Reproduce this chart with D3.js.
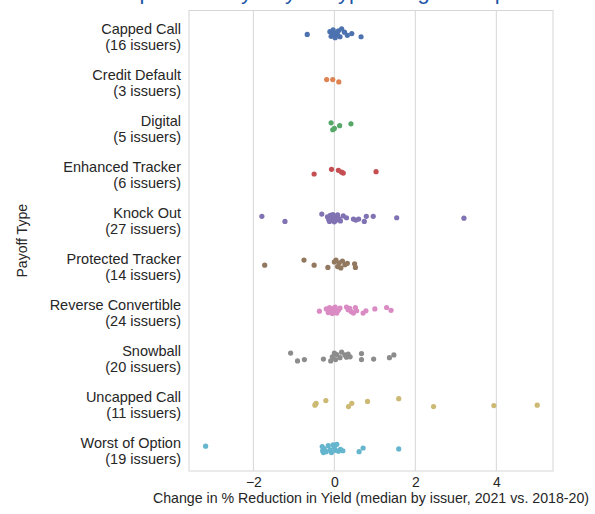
<!DOCTYPE html>
<html>
<head>
<meta charset="utf-8">
<script src="https://cdn.jsdelivr.net/npm/d3@7"></script>
<style>
  html, body { margin: 0; padding: 0; background: #ffffff; }
  svg { display: block; }
  text { font-family: "Liberation Sans", Arial, sans-serif; }
</style>
</head>
<body>
<svg id="chart" width="595" height="514"></svg>
<script>
// ---------------- data ----------------
const titleText = "Compression by Payoff Type: Largest Gap";
const categories = ["Capped Call", "Credit Default", "Digital", "Enhanced Tracker", "Knock Out",
  "Protected Tracker", "Reverse Convertible", "Snowball", "Uncapped Call", "Worst of Option"];
const issuerCounts = [16, 3, 5, 6, 27, 14, 24, 20, 11, 19];
const colors = ["#4c72b0", "#dd8452", "#55a868", "#c44e52", "#8172b3",
  "#937860", "#da8bc3", "#8c8c8c", "#ccb974", "#64b5cd"];

const cappedCall = [-0.67, -0.11, -0.08, -0.05, -0.03, 0.0, 0.02, 0.05, 0.08, 0.10, 0.14, 0.18, 0.25, 0.32, 0.43, 0.66];
const cappedCallJitter = [0.02, -0.04, 0.06, 0.0, -0.08, 0.05, 0.09, -0.02, 0.03, -0.06, 0.07, -0.1, -0.03, 0.04, 0.0, 0.07];

const creditDefault = [-0.19, -0.04, 0.11];
const creditDefaultJitter = [0.0, 0.0, 0.05];

const digital = [-0.08, -0.04, 0.0, 0.13, 0.41];
const digitalJitter = [-0.06, 0.09, 0.06, 0.0, -0.04];

const enhancedTracker = [-0.50, -0.07, 0.10, 0.18, 0.22, 1.03];
const enhancedTrackerJitter = [0.05, -0.05, -0.03, 0.01, 0.03, 0.0];

const knockOut = [-1.79, -1.22, -0.31, -0.17, -0.14, -0.12, -0.10, -0.08, -0.06, -0.04, -0.02, 0.0, 0.02, 0.05, 0.08,
  0.11, 0.15, 0.22, 0.30, 0.47, 0.53, 0.60, 0.74, 0.79, 0.96, 1.54, 3.20];
const knockOutJitter = [-0.03, 0.08, -0.08, -0.02, 0.04, 0.08, -0.05, 0.01, 0.06, -0.07, 0.03, 0.09, -0.03, 0.05, -0.06,
  0.02, 0.07, -0.04, 0.0, 0.03, 0.05, 0.03, 0.08, -0.03, -0.03, 0.0, 0.01];

const protectedTracker = [-1.72, -0.75, -0.50, -0.16, 0.0, 0.04, 0.08, 0.12, 0.16, 0.20, 0.26, 0.32, 0.50, 0.52];
const protectedTrackerJitter = [0.03, -0.08, 0.03, 0.08, -0.04, -0.08, 0.06, -0.02, 0.09, -0.06, 0.02, -0.01, 0.0, 0.08];

const reverseConvertible = [-0.37, -0.20, -0.15, -0.12, -0.08, -0.05, -0.02, 0.0, 0.02, 0.06, 0.10, 0.14, 0.30, 0.34,
  0.38, 0.42, 0.47, 0.52, 0.55, 0.71, 0.78, 1.00, 1.29, 1.40];
const reverseConvertibleJitter = [0.03, -0.02, 0.06, -0.05, 0.02, 0.08, -0.03, 0.05, -0.06, 0.07, 0.01, -0.04, -0.06, 0.0,
  -0.03, 0.04, 0.07, -0.05, 0.02, 0.07, 0.02, -0.02, -0.05, 0.01];

const snowball = [-1.08, -0.91, -0.74, -0.27, -0.09, -0.05, 0.0, 0.03, 0.06, 0.14, 0.18, 0.26, 0.30, 0.34, 0.39,
  0.67, 0.67, 0.97, 1.36, 1.47];
const snowballJitter = [-0.06, 0.11, 0.08, 0.07, 0.11, 0.02, -0.06, 0.08, -0.03, 0.04, -0.08, -0.02, 0.03, -0.04, 0.02,
  -0.05, 0.08, 0.07, 0.04, -0.02];

const uncappedCall = [-0.48, -0.47, -0.45, -0.21, 0.35, 0.43, 0.82, 1.59, 2.45, 3.94, 5.01];
const uncappedCallJitter = [0.07, 0.05, 0.03, -0.03, 0.1, 0.03, -0.01, -0.07, 0.1, 0.08, 0.07];

const worstOfOption = [-3.18, -0.30, -0.29, -0.27, -0.25, -0.20, -0.15, -0.10, -0.07, -0.03, 0.0, 0.03, 0.06, 0.10,
  0.15, 0.21, 0.61, 0.71, 1.59];
const worstOfOptionJitter = [-0.04, -0.03, 0.06, 0.1, 0.02, 0.08, -0.05, 0.04, 0.1, -0.07, -0.02, 0.05, -0.08, 0.07,
  0.03, 0.06, 0.08, 0.0, 0.02];

const seriesValues = [cappedCall, creditDefault, digital, enhancedTracker, knockOut,
  protectedTracker, reverseConvertible, snowball, uncappedCall, worstOfOption];
const seriesJitter = [cappedCallJitter, creditDefaultJitter, digitalJitter, enhancedTrackerJitter, knockOutJitter,
  protectedTrackerJitter, reverseConvertibleJitter, snowballJitter, uncappedCallJitter, worstOfOptionJitter];

const xTicks = [-2, 0, 2, 4];
const xDomain = [-3.59, 5.40];
const xLabel = "Change in % Reduction in Yield (median by issuer, 2021 vs. 2018-20)";
const yLabel = "Payoff Type";

// ---------------- chart ----------------
const svg = d3.select("#chart");
const plot = { left: 189, right: 553, top: 10.5, bottom: 471 };
const textColor = "#262626";
const gridColor = "#d6d6d6";

const x = d3.scaleLinear().domain(xDomain).range([plot.left, plot.right]);
const y = d3.scaleBand().domain(categories).range([plot.top, plot.bottom]).paddingInner(0).paddingOuter(0);
const step = y.step();

// title (cut off at top, only its lower part shows)
svg.append("text")
  .attr("x", 300).attr("y", -1.5)
  .attr("text-anchor", "middle")
  .attr("font-size", 22)
  .attr("fill", "#1f56a8")
  .text(titleText);

// grid
const xAxis = d3.axisBottom(x).tickValues(xTicks).tickSize(0).tickPadding(0)
  .tickFormat(d => d < 0 ? "\u2212" + Math.abs(d) : String(d));

svg.append("g").selectAll("line").data(xTicks).join("line")
  .attr("x1", d => x(d)).attr("x2", d => x(d))
  .attr("y1", plot.top).attr("y2", plot.bottom)
  .attr("stroke", gridColor).attr("stroke-width", 1);

// frame
svg.append("rect")
  .attr("x", plot.left).attr("y", plot.top)
  .attr("width", plot.right - plot.left).attr("height", plot.bottom - plot.top)
  .attr("fill", "none").attr("stroke", gridColor).attr("stroke-width", 1);

// x axis tick labels
const gx = svg.append("g").attr("transform", `translate(0,${plot.bottom})`).call(xAxis);
gx.select(".domain").remove();
gx.selectAll("text")
  .attr("dy", null).attr("y", 15.5)
  .attr("font-size", 14)
  .attr("font-family", "Liberation Sans, Arial, sans-serif")
  .attr("fill", textColor);

// x label
svg.append("text")
  .attr("x", (plot.left + plot.right) / 2).attr("y", 503)
  .attr("text-anchor", "middle")
  .attr("font-size", 14.2)
  .attr("fill", textColor)
  .text(xLabel);

// y label
svg.append("text")
  .attr("transform", `translate(27,${(plot.top + plot.bottom) / 2}) rotate(-90)`)
  .attr("text-anchor", "middle")
  .attr("font-size", 14)
  .attr("fill", textColor)
  .text(yLabel);

// y tick labels (two lines)
const yl = svg.append("g").selectAll("text").data(categories).join("text")
  .attr("text-anchor", "end")
  .attr("font-size", 14.5)
  .attr("fill", textColor);
yl.append("tspan")
  .attr("x", 181)
  .attr("y", d => y(d) + step / 2 + 0.5)
  .text(d => d);
yl.append("tspan")
  .attr("x", 181)
  .attr("y", (d, i) => y(d) + step / 2 + 16.5)
  .text((d, i) => `(${issuerCounts[i]} issuers)`);

// points
const points = [];
categories.forEach((c, i) => {
  seriesValues[i].forEach((v, j) => {
    points.push({ cat: c, value: v, jitter: seriesJitter[i][j], color: colors[i] });
  });
});

svg.append("g").selectAll("circle").data(points).join("circle")
  .attr("cx", d => x(d.value))
  .attr("cy", d => y(d.cat) + step / 2 + d.jitter * step)
  .attr("r", 2.6)
  .attr("fill", d => d.color);
</script>
</body>
</html>
